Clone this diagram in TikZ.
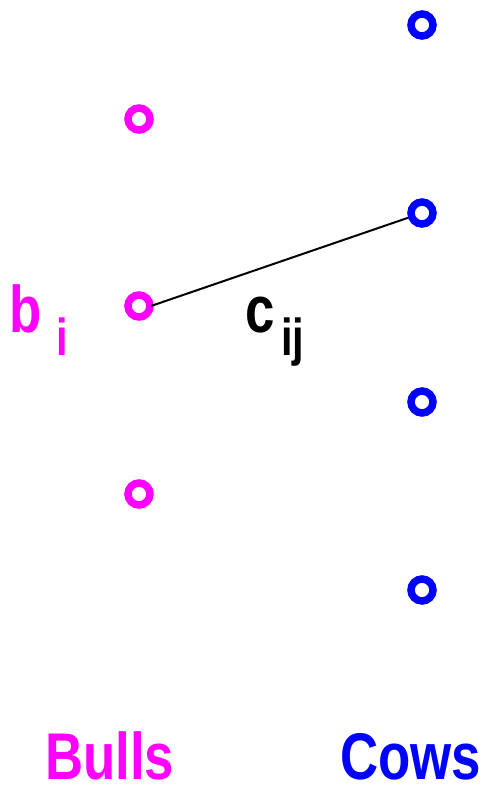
\documentclass[tikz,border=0pt]{standalone}
\usepackage{fontspec}
\setmainfont{Liberation Sans}[FakeStretch=0.8]
\definecolor{mag}{RGB}{255,0,255}
\definecolor{cowblue}{RGB}{0,0,255}
\begin{document}
\begin{tikzpicture}[x=1pt,y=-1pt,
  bull/.style={circle,draw=mag,line width=7.5pt,minimum size=22pt,inner sep=0pt},
  cow/.style={circle,draw=cowblue,line width=7.5pt,minimum size=22pt,inner sep=0pt},
  big/.style={inner sep=0pt,anchor=base west,font=\fontsize{66}{66}\selectfont\bfseries},
  small/.style={inner sep=0pt,anchor=base west,font=\fontsize{52}{52}\selectfont\bfseries}]
\useasboundingbox (0,0) rectangle (487,786);
\node[bull] (b1) at (139,119) {};
\node[bull] (b2) at (139,306) {};
\node[bull] (b3) at (139,494) {};
\node[cow] (c1) at (422,25) {};
\node[cow] (c2) at (422,213) {};
\node[cow] (c3) at (422,402) {};
\node[cow] (c4) at (422,590) {};
\draw[line width=2pt] (b2.center) ++(12,0) coordinate (s) (s) -- (c2);
\node[big,text=mag] (lb) at (9,332) {b};
\node[small,text=mag] (li) at (56,355) {i};
\node[big] (lc) at (245,332) {c};
\node[small] (lij) at (281,355) {ij};
\node[big,text=mag] (bulls) at (45,779) {Bulls};
\node[big,text=cowblue] (cows) at (340,779) {Cows};
\end{tikzpicture}
\end{document}
